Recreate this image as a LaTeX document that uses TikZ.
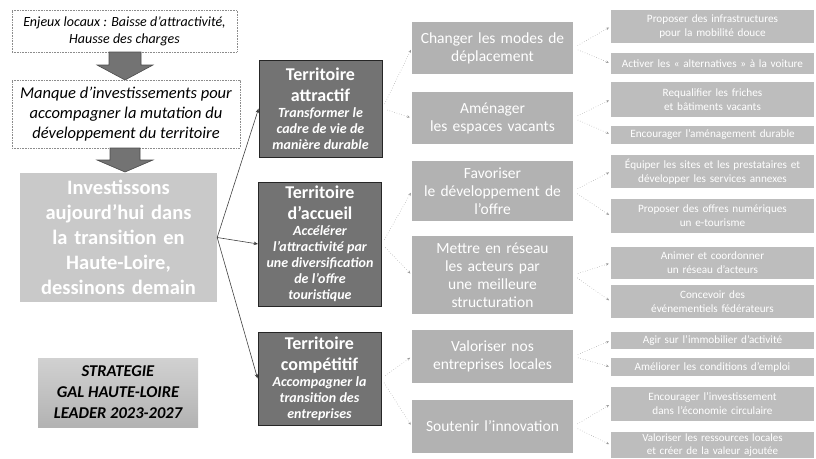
\documentclass[tikz,border=0pt]{standalone}
\usepackage{fontspec}
\setmainfont{Carlito}
\usetikzlibrary{arrows.meta,calc}
\begin{document}
\begin{tikzpicture}[x=1pt,y=-1pt,
  box/.style={rectangle, inner sep=0pt, align=center, anchor=center},
  srcbox/.style={box, draw=black!45, dash pattern=on 0.8pt off 0.8pt, line width=0.5pt},
  bigbox/.style={box, fill=black!21, text=white, text width=195pt, font=\bfseries\fontsize{20.5}{25}\selectfont},
  stratbox/.style={box, top color=black!18, bottom color=black!30, text=black, font=\bfseries\itshape\fontsize{16.5}{21}\selectfont},
  darkbox/.style={box, fill=black!55, draw=black!85, line width=0.8pt, text=white, minimum width=123pt, text width=122pt},
  midbox/.style={box, fill=black!30, text=white, minimum width=161pt, text width=160pt, font=\fontsize{15.5}{18}\selectfont},
  leafbox/.style={box, fill=black!26, text=white, minimum width=203pt, text width=203pt, font=\fontsize{11.2}{14}\selectfont},
  link/.style={draw=black!75, line width=0.6pt, -{Stealth[length=4.5pt,width=3.5pt]}},
  dotlink/.style={draw=black!40, dotted, line width=0.5pt, shorten <=5pt, shorten >=2pt, -{Stealth[length=3pt,width=2.5pt]}},
  blkarrow/.style={fill=black!55, draw=black!70, line width=0.6pt}
]
\useasboundingbox (0,0) rectangle (816,458);

% left column
\node[srcbox, minimum width=225pt, minimum height=42pt, font=\itshape\fontsize{14}{17}\selectfont] (e1) at (124.5,31)
  {Enjeux locaux : Baisse d’attractivité,\\Hausse des charges};
\node[srcbox, minimum width=228pt, minimum height=68pt, font=\itshape\fontsize{16.5}{20}\selectfont] (m1) at (126,114)
  {Manque d’investissements pour\\accompagner la mutation du\\développement du territoire};
\node[bigbox, minimum width=197pt, minimum height=129pt] (big) at (118.5,237.5)
  {Investissons\\aujourd’hui dans\\la transition en\\Haute-Loire,\\dessinons demain};
\node[stratbox, minimum width=160pt, minimum height=69pt] (strat) at (118,392.5)
  {STRATEGIE\\GAL HAUTE-LOIRE\\LEADER 2023-2027};

% block arrows
\draw[blkarrow] (109,52) -- (141,52) -- (141,65) -- (153,65) -- (125,80) -- (97,65) -- (109,65) -- cycle;
\draw[blkarrow] (110,148) -- (140,148) -- (140,160) -- (153,160) -- (125,172) -- (97,160) -- (110,160) -- cycle;

% dark boxes
\node[darkbox, minimum height=97pt] (att) at (320.5,108.5)
  {{\bfseries\fontsize{18}{21}\selectfont Territoire\\attractif\par}
   {\bfseries\itshape\fontsize{14}{16}\selectfont Transformer le\\cadre de vie de\\manière durable\par}};
\node[darkbox, minimum height=124pt] (acc) at (320,244)
  {{\bfseries\fontsize{18}{21}\selectfont Territoire\\d’accueil\par}
   {\bfseries\itshape\fontsize{14}{16}\selectfont Accélérer\\l’attractivité par\\une diversification\\de l’offre\\touristique\par}};
\node[darkbox, minimum height=93pt] (comp) at (319.5,378.5)
  {{\bfseries\fontsize{18}{21}\selectfont Territoire\\compétitif\par}
   {\bfseries\itshape\fontsize{14}{16}\selectfont Accompagner la\\transition des\\entreprises\par}};

\draw[link] (big.east) -- (att.west);
\draw[link] (big.east) -- (acc.west);
\draw[link] (big.east) -- (comp.west);

% middle light boxes
\node[midbox, minimum height=52pt] (l1) at (492.5,48) {Changer les modes de\\déplacement};
\node[midbox, minimum height=52pt] (l2) at (492.5,118) {Aménager\\les espaces vacants};
\node[midbox, minimum height=60pt] (l3) at (492.5,191) {Favoriser\\le développement de\\l’offre};
\node[midbox, minimum height=78pt] (l4) at (492.5,275) {Mettre en réseau\\les acteurs par\\une meilleure\\structuration};
\node[midbox, minimum height=53pt] (l5) at (492.5,356.5) {Valoriser nos\\entreprises locales};
\node[midbox, minimum height=53pt] (l6) at (492.5,426.5) {Soutenir l’innovation};

\draw[dotlink] (att.east) -- (l1.west);
\draw[dotlink] (att.east) -- (l2.west);
\draw[dotlink] (acc.east) -- (l3.west);
\draw[dotlink] (acc.east) -- (l4.west);
\draw[dotlink] (comp.east) -- (l5.west);
\draw[dotlink] (comp.east) -- (l6.west);

% right column
\node[leafbox, minimum height=33pt] (r1) at (712.5,26.5) {Proposer des infrastructures\\pour la mobilité douce};
\node[leafbox, minimum height=21pt] (r2) at (712.5,63.5) {Activer les « alternatives » à la voiture};
\node[leafbox, minimum height=35pt] (r3) at (712.5,99.5) {Requalifier les friches\\et bâtiments vacants};
\node[leafbox, minimum height=18pt] (r4) at (712.5,134.5) {Encourager l’aménagement durable};
\node[leafbox, minimum height=33pt] (r5) at (712.5,171.5) {Équiper les sites et les prestataires et\\développer les services annexes};
\node[leafbox, minimum height=34pt] (r6) at (712.5,216) {Proposer des offres numériques\\un e-tourisme};
\node[leafbox, minimum height=32pt] (r7) at (712.5,263) {Animer et coordonner\\un réseau d’acteurs};
\node[leafbox, minimum height=33pt] (r8) at (712.5,301.5) {Concevoir des\\événementiels fédérateurs};
\node[leafbox, minimum height=17pt] (r9) at (712.5,340.5) {Agir sur l’immobilier d’activité};
\node[leafbox, minimum height=18pt] (r10) at (712.5,367) {Améliorer les conditions d’emploi};
\node[leafbox, minimum height=34pt] (r11) at (712.5,404) {Encourager l’investissement\\dans l’économie circulaire};
\node[leafbox, minimum height=26pt, font=\fontsize{11}{12.5}\selectfont] (r12) at (712.5,445) {Valoriser les ressources locales\\et créer de la valeur ajoutée};

\draw[dotlink] (l1.east) -- (r1.west);
\draw[dotlink] (l1.east) -- (r2.west);
\draw[dotlink] (l2.east) -- (r3.west);
\draw[dotlink] (l2.east) -- (r4.west);
\draw[dotlink] (l3.east) -- (r5.west);
\draw[dotlink] (l3.east) -- (r6.west);
\draw[dotlink] (l4.east) -- (r7.west);
\draw[dotlink] (l4.east) -- (r8.west);
\draw[dotlink] (l5.east) -- (r9.west);
\draw[dotlink] (l5.east) -- (r10.west);
\draw[dotlink] (l6.east) -- (r11.west);
\draw[dotlink] (l6.east) -- (r12.west);
\end{tikzpicture}
\end{document}
